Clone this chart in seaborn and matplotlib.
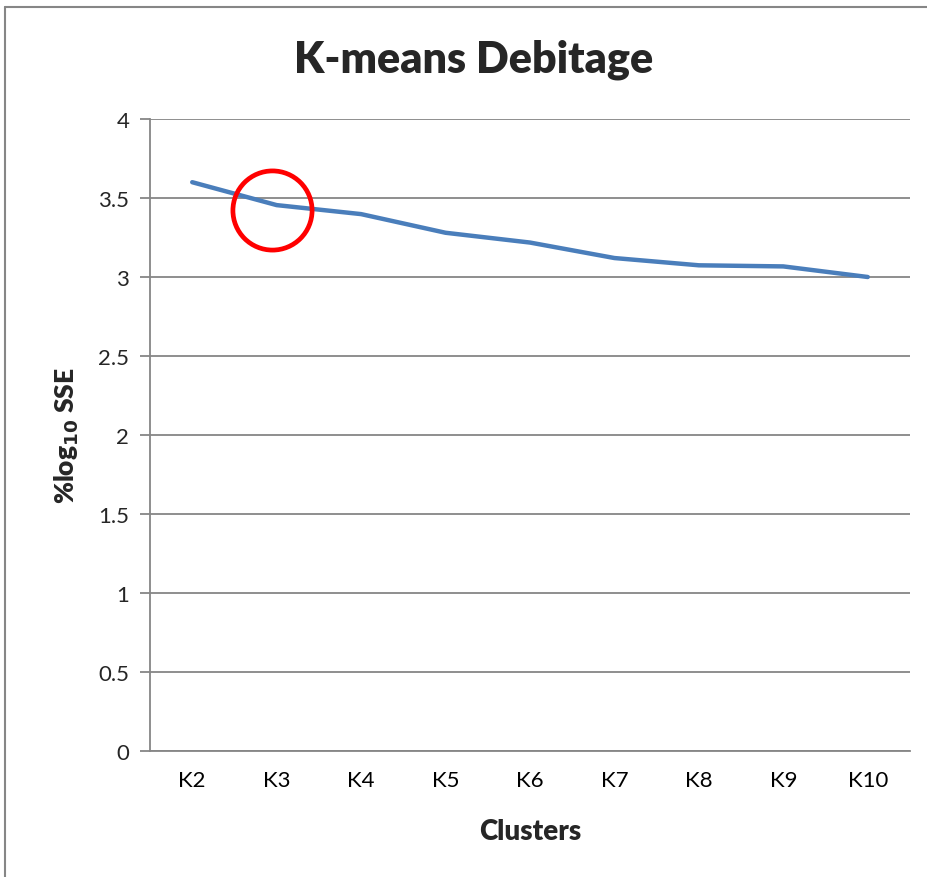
import numpy as np
import pandas as pd
import matplotlib.pyplot as plt
from matplotlib.lines import Line2D
import seaborn as sns

clusters = ['K2', 'K3', 'K4', 'K5', 'K6', 'K7', 'K8', 'K9', 'K10']
log_sse = [3.60, 3.455, 3.398, 3.28, 3.218, 3.12, 3.074, 3.067, 3.00]
highlight_cluster = 'K3'
highlight_value = 3.426

sns.set_theme(style='white')
plt.rcParams['font.family'] = ['Lato', 'DejaVu Sans']

df = pd.DataFrame({'pos': np.arange(len(clusters)), 'value': log_sse})

fig = plt.figure(figsize=(9.27, 8.78), dpi=100)
ax = fig.add_axes([150 / 927, 1 - 752 / 878, 760 / 927, 632 / 878])

sns.lineplot(data=df, x='pos', y='value', ax=ax, color='#4A7EBB', linewidth=3.2)

# red circle highlighting K3 (drawn a bit left of the category centre, as in the original)
ax.plot([clusters.index(highlight_cluster) - 0.06], [highlight_value], marker='o', ms=57,
        mfc='none', mec='#FF0000', mew=3.4)

grey = '#868686'
ax.set_xlim(-0.5, len(clusters) - 0.5)
ax.set_ylim(0, 4)
ax.set_yticks(np.arange(0, 4.01, 0.5))
ax.set_yticklabels(['0', '0.5', '1', '1.5', '2', '2.5', '3', '3.5', '4'])
ax.yaxis.grid(True, color=grey, linewidth=1.3)
ax.set_xticks(np.arange(len(clusters)))
ax.set_xticklabels(clusters)
ax.set_xticks(np.arange(-0.5, len(clusters)), minor=True)
ax.tick_params(axis='x', which='major', length=0, pad=14, labelsize=16, colors='black')
ax.tick_params(axis='x', which='minor', length=7, width=1.3, color=grey, direction='out')
ax.tick_params(axis='y', length=7, width=1.3, color=grey, direction='out', pad=8,
               labelsize=16, left=True)

for s in ['top', 'right']:
    ax.spines[s].set_visible(False)
for s in ['left', 'bottom']:
    ax.spines[s].set_color(grey)
    ax.spines[s].set_linewidth(1.3)

ax.set_xlabel('Clusters', fontsize=20, fontweight='heavy', labelpad=20)
ax.set_ylabel(r'%log$_{\mathbf{10}}$ SSE', fontsize=19, fontweight='heavy', labelpad=12)
fig.text(474 / 927, 1 - 60 / 878, 'K-means Debitage', fontsize=31, fontweight='heavy',
         ha='center', va='center')

# outer chart frame (only top and left edges fall inside the picture)
fig.lines.append(Line2D([5 / 927, 5 / 927], [0, 1 - 8 / 878], transform=fig.transFigure,
                        color=grey, linewidth=1.5))
fig.lines.append(Line2D([5 / 927, 1], [1 - 8 / 878, 1 - 8 / 878], transform=fig.transFigure,
                        color=grey, linewidth=1.5))

fig.savefig('out.png', dpi=100)
